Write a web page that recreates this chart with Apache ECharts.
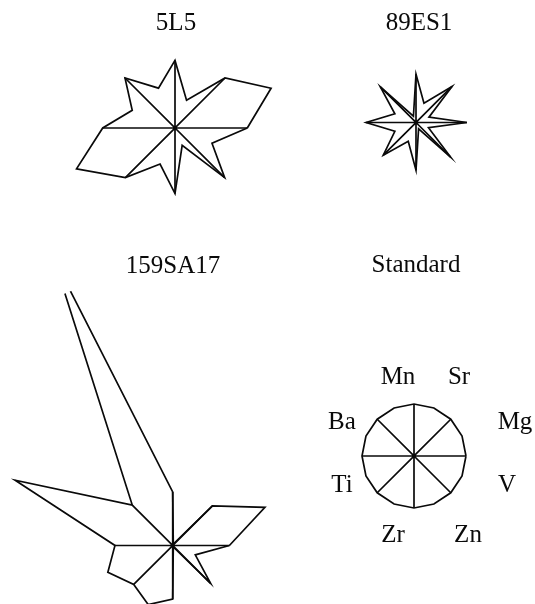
<!DOCTYPE html>
<html>
<head>
<meta charset="utf-8">
<script src="https://cdn.jsdelivr.net/npm/echarts/dist/echarts.min.js"></script>
<style>
  html, body { margin: 0; padding: 0; background: #fff; }
  #main { width: 535px; height: 604px; }
</style>
</head>
<body>
<div id="main"></div>
<script>
// 16 directions of each glyph, counter-clockwise from east
const angles = [0, 22.5, 45, 67.5, 90, 112.5, 135, 157.5, 180, 202.5, 225, 247.5, 270, 292.5, 315, 337.5];
// spokes are drawn on every other direction
const spokeAngles = [0, 45, 90, 135, 180, 225, 270, 315];

const samples = ['5L5', '89ES1', '159SA17', 'Standard'];

// radii, relative to the standard (= 1)
const values5L5 = [1.39, 2.00, 1.36, 0.58, 1.30, 0.83, 1.36, 0.89, 1.39, 2.05, 1.35, 0.75, 1.26, 0.36, 1.35, 0.77];
const values89ES1 = [0.98, 0.27, 0.98, 0.40, 0.93, 0.13, 0.97, 0.44, 0.96, 0.44, 0.89, 0.39, 0.92, 0.13, 0.94, 0.26];
const values159SA17 = [1.09, 1.92, 1.08, 0.03, 1.03, 5.98, 1.10, 3.28, 1.11, 1.35, 1.06, 1.23, 1.03, 0.03, 1.03, 0.47];
const valuesStandard = [1, 1, 1, 1, 1, 1, 1, 1, 1, 1, 1, 1, 1, 1, 1, 1];
const sampleValues = [values5L5, values89ES1, values159SA17, valuesStandard];

// element names printed round the standard glyph
const elements = ['Mn', 'Sr', 'Mg', 'V', 'Zn', 'Zr', 'Ti', 'Ba'];

// ---- layout ----
const PX_PER_UNIT = 52;
const FONT = "25px 'Liberation Serif', 'DejaVu Serif', serif";
const INK = '#0a0a0a';
const panels = [
  { center: [175, 128], max: 2.5, title: [176, 23] },
  { center: [416, 122.5], max: 2.5, title: [419, 23] },
  { center: [172.7, 545.5], max: 5.27, title: [173, 266] }, // clipped at the panel top
  { center: [414, 456], max: 2.5, title: [416, 265] },
];
const elementPos = [
  [398, 377], [459, 377], [515, 422], [507, 485],
  [468, 535], [393, 535], [342, 485], [342, 422],
];

const polar = panels.map((p) => ({
  center: p.center,
  radius: p.max * PX_PER_UNIT,
}));
const angleAxis = panels.map((p, i) => ({
  polarIndex: i,
  type: 'value',
  min: 0,
  max: 360,
  startAngle: 0,
  clockwise: false,
  show: false,
}));
const radiusAxis = panels.map((p, i) => ({
  polarIndex: i,
  type: 'value',
  min: 0,
  max: p.max,
  show: false,
}));

const series = [];
sampleValues.forEach((vals, i) => {
  const outline = vals.map((v, k) => [v, angles[k]]);
  outline.push(outline[0]);
  const spokes = [];
  spokeAngles.forEach((a) => {
    spokes.push([0, a]);
    spokes.push([vals[angles.indexOf(a)], a]);
  });
  const common = {
    type: 'line',
    coordinateSystem: 'polar',
    polarIndex: i,
    symbol: 'none',
    silent: true,
    clip: true,
    lineStyle: { color: INK, width: 1.7, join: 'miter' },
  };
  series.push({ ...common, name: samples[i], data: outline });
  series.push({ ...common, name: samples[i] + ' spokes', data: spokes });
});

const texts = [];
samples.forEach((s, i) => {
  texts.push({
    type: 'text',
    x: panels[i].title[0],
    y: panels[i].title[1],
    style: { text: s, font: FONT, fill: INK, align: 'center', verticalAlign: 'middle' },
  });
});
elements.forEach((e, i) => {
  texts.push({
    type: 'text',
    x: elementPos[i][0],
    y: elementPos[i][1],
    style: { text: e, font: FONT, fill: INK, align: 'center', verticalAlign: 'middle' },
  });
});

const chart = echarts.init(document.getElementById('main'));
chart.setOption({
  backgroundColor: '#fff',
  animation: false,
  polar: polar,
  angleAxis: angleAxis,
  radiusAxis: radiusAxis,
  graphic: texts,
  series: series,
});
</script>
</body>
</html>
